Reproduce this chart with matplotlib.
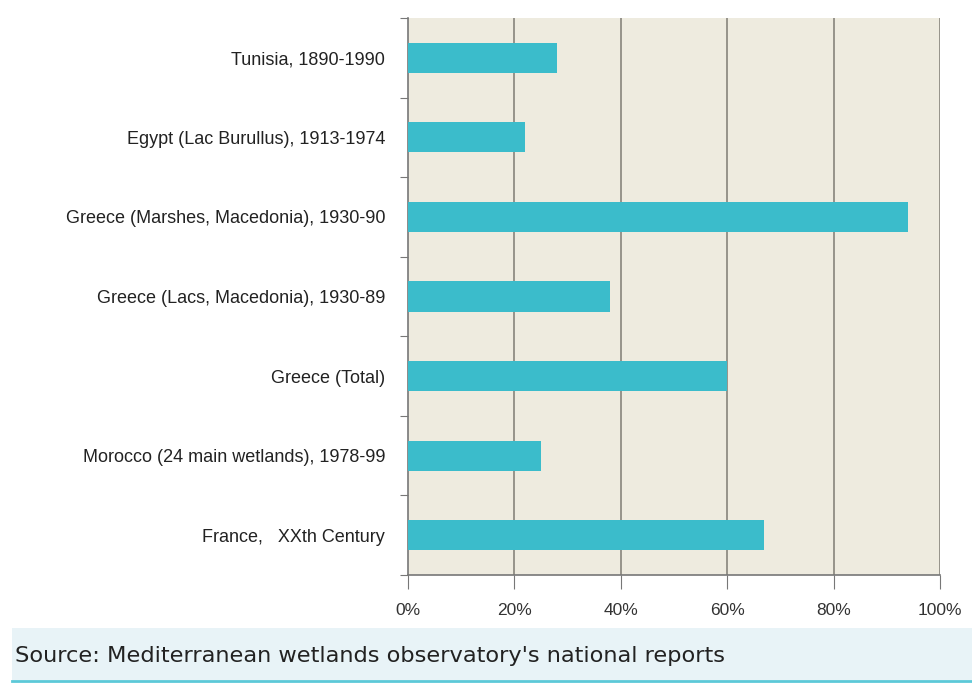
import matplotlib.pyplot as plt
from matplotlib.patches import Rectangle

categories = [
    'Tunisia, 1890-1990',
    'Egypt (Lac Burullus), 1913-1974',
    'Greece (Marshes, Macedonia), 1930-90',
    'Greece (Lacs, Macedonia), 1930-89',
    'Greece (Total)',
    'Morocco (24 main wetlands), 1978-99',
    'France,   XXth Century',
]
loss_pct = [28, 22, 94, 38, 60, 25, 67]
x_ticks = [0, 20, 40, 60, 80, 100]
x_tick_labels = ['0%', '20%', '40%', '60%', '80%', '100%']
source_text = "Source: Mediterranean wetlands observatory's national reports"

plt.rcParams['font.family'] = ['Liberation Sans', 'DejaVu Sans']

fig = plt.figure(figsize=(9.72, 6.84), dpi=100)
ax = fig.add_axes([408 / 972, 1 - 575 / 684, 532 / 972, 557 / 684])
ax.set_facecolor('#eeebdf')

pos = list(range(len(categories)))
ax.barh(pos, loss_pct, height=0.38, color='#3bbccb', zorder=3)
ax.set_ylim(len(categories) - 0.5, -0.5)
ax.set_xlim(0, 100)

ax.set_xticks(x_ticks)
ax.set_xticklabels(x_tick_labels, fontsize=12.5, color='#333333')
ax.set_yticks([p - 0.5 for p in pos] + [len(categories) - 0.5])
ax.set_yticklabels([])
ax.set_yticks(pos, minor=True)
ax.set_yticklabels(categories, minor=True, fontsize=13, color='#222222')
ax.tick_params(axis='y', which='minor', length=0, pad=16.5)
ax.tick_params(axis='y', which='major', length=6, color='#777777')
ax.tick_params(axis='x', length=10, color='#777777', pad=10)

for x in x_ticks[1:]:
    ax.axvline(x, color='#8f8c84', lw=1.3, zorder=1)

for side in ['top', 'right']:
    ax.spines[side].set_visible(False)
for side in ['left', 'bottom']:
    ax.spines[side].set_color('#777777')
    ax.spines[side].set_linewidth(1.2)

# source band at the bottom
fig.patches.append(Rectangle((0.012, 4 / 684), 0.988, 52 / 684, transform=fig.transFigure,
                             facecolor='#e8f3f7', edgecolor='none'))
fig.lines.append(plt.Line2D([0.012, 1], [3 / 684, 3 / 684], transform=fig.transFigure,
                            color='#5cc9d8', lw=2))
fig.text(15 / 972, 28 / 684, source_text, fontsize=16.2, va='center', color='#222222',
         family=['DejaVu Sans'])

fig.savefig('out.png', dpi=100)
